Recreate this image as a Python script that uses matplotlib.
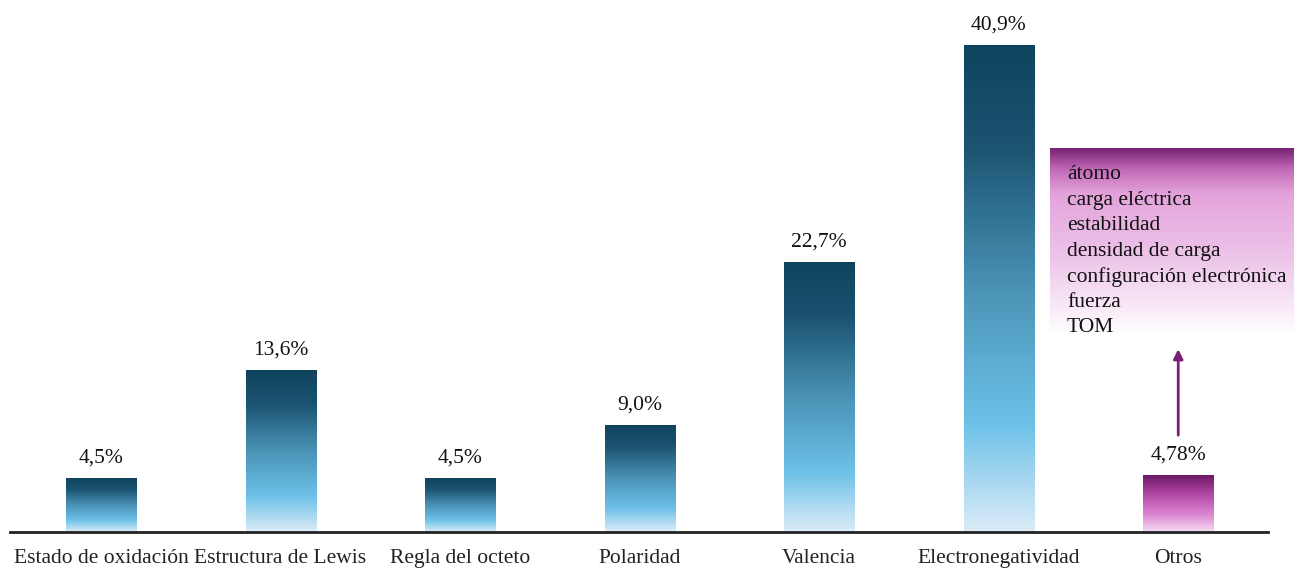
import matplotlib.pyplot as plt
import numpy as np
from matplotlib.colors import LinearSegmentedColormap

categories = ["Estado de oxidación", "Estructura de Lewis", "Regla del octeto",
              "Polaridad", "Valencia", "Electronegatividad", "Otros"]
values = [4.5, 13.6, 4.5, 9.0, 22.7, 40.9, 4.78]
value_labels = ["4,5%", "13,6%", "4,5%", "9,0%", "22,7%", "40,9%", "4,78%"]
otros_items = ["átomo", "carga eléctrica", "estabilidad", "densidad de carga",
               "configuración electrónica", "fuerza", "TOM"]

plt.rcParams['font.family'] = ['Liberation Serif', 'DejaVu Serif']
fs = 15.5

blue_cmap = LinearSegmentedColormap.from_list(
    "blue_grad", [(0.0, '#dcecf8'), (0.22, '#6dc1e8'), (0.5, '#4a93b6'),
                  (0.8, '#1a5270'), (1.0, '#0f445e')])
purple_cmap = LinearSegmentedColormap.from_list(
    "purple_grad", [(0.0, '#f5dcf2'), (0.3, '#dc88d2'), (0.65, '#b54aa8'),
                    (1.0, '#6b1966')])
box_cmap = LinearSegmentedColormap.from_list(
    "box_grad", [(0.0, '#ffffff'), (0.1, '#fbf0fa'), (0.4, '#eec6ea'),
                 (0.75, '#e3a3db'), (0.88, '#c36bb9'), (1.0, '#761f70')])

fig = plt.figure(figsize=(12.94, 5.69), dpi=100)
ax = fig.add_axes([10 / 1294, 37 / 569, 1258 / 1294, 532 / 569])

x = np.arange(len(categories))
width = 0.39
bars = ax.bar(x, values, width=width, color='none', edgecolor='none')

grad = np.linspace(0, 1, 256).reshape(-1, 1)
for i, b in enumerate(bars):
    cmap = purple_cmap if categories[i] == "Otros" else blue_cmap
    im = ax.imshow(grad, cmap=cmap, origin='lower', aspect='auto',
                   extent=[b.get_x(), b.get_x() + b.get_width(), 0, b.get_height()],
                   interpolation='bilinear', zorder=2)
    im.set_clip_path(b)
    ax.text(b.get_x() + b.get_width() / 2, b.get_height() + 0.9, value_labels[i],
            ha='center', va='bottom', fontsize=fs, color='#111111')

ax.set_xlim(-0.507, 6.50)
ax.set_ylim(0, 44.7)
ax.set_xticks(x)
ax.set_xticklabels(categories, fontsize=fs, color='#222222')
ax.tick_params(axis='x', length=0, pad=12)
ax.set_yticks([])
for s in ['top', 'right', 'left']:
    ax.spines[s].set_visible(False)
ax.spines['bottom'].set_linewidth(2)
ax.spines['bottom'].set_color('#222222')

# arrow from "Otros" label up to the box
ax.annotate("", xy=(6, 15.6), xytext=(6, 7.9),
            arrowprops=dict(arrowstyle='-|>', color='#7b1f75', lw=2,
                            mutation_scale=14))

# gradient box listing the "Otros" terms
box = fig.add_axes([1050 / 1294, (569 - 335) / 569, 250 / 1294, 187 / 569])
box.imshow(grad, cmap=box_cmap, origin='lower', aspect='auto',
           extent=[0, 1, 0, 1], interpolation='bilinear')
box.set_xlim(0, 1)
box.set_ylim(0, 1)
box.axis('off')
for j, t in enumerate(otros_items):
    box.text(0.068, 0.856 - j * 0.136, t, ha='left', va='center',
             fontsize=fs, color='#111111')

fig.savefig("out.png", dpi=100)
